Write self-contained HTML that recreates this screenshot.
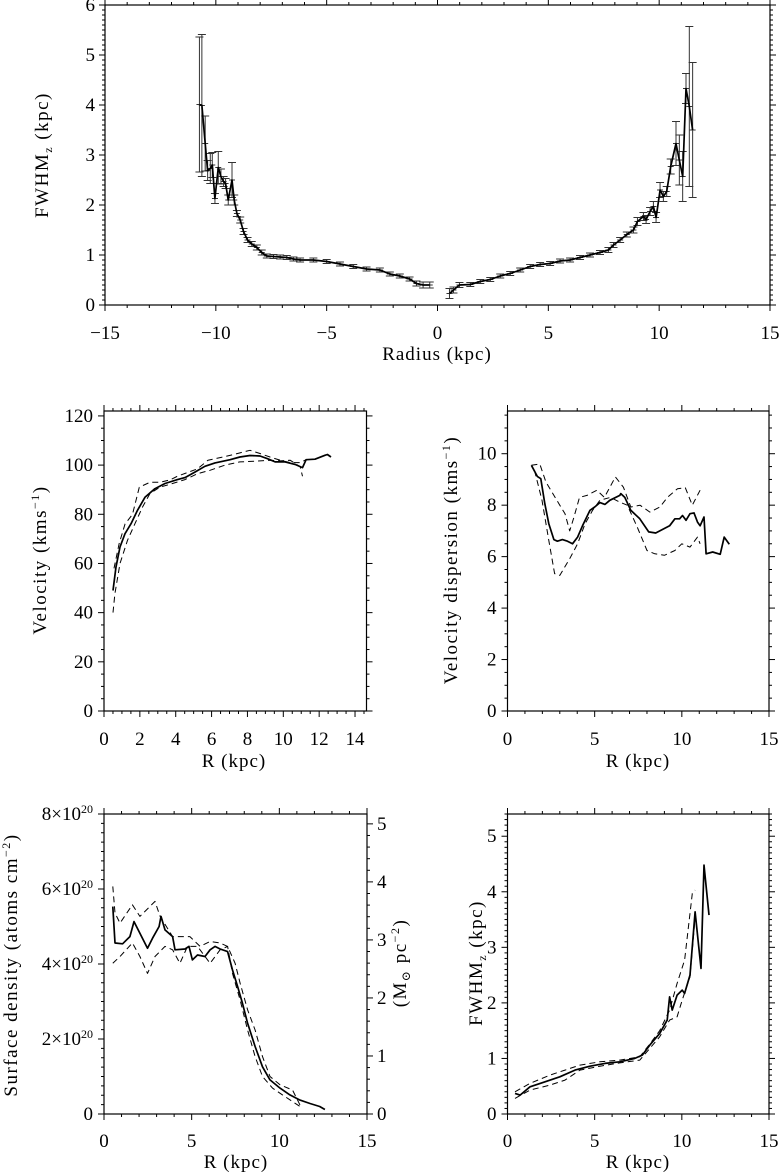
<!DOCTYPE html>
<html><head><meta charset="utf-8">
<style>
html,body{margin:0;padding:0;background:#fff;}
svg{display:block;font-family:"Liberation Serif","DejaVu Serif",serif;}
</style></head>
<body>
<svg id="fig" width="784" height="1172" viewBox="0 0 784 1172" xmlns="http://www.w3.org/2000/svg"></svg>
<script>
// ---------- DATA ----------
const fwhmNegR = [-10.74,-10.63,-10.48,-10.37,-10.25,-10.16,-10.04,-9.89,-9.77,-9.65,-9.56,-9.44,-9.27,-9.17,-9.05,-8.90,-8.75,-8.57,-8.38,-8.15,-7.93,-7.7,-7.4,-7.1,-6.8,-6.5,-6.2,-5.6,-5.0,-4.4,-3.8,-3.2,-2.6,-2.15,-1.7,-1.26,-0.95,-0.65,-0.35];
const fwhmNegV = [4.01,3.99,3.23,2.69,2.73,2.8,2.13,2.75,2.57,2.47,2.43,2.1,2.5,2.1,1.83,1.7,1.47,1.3,1.22,1.15,1.05,0.98,0.97,0.96,0.95,0.92,0.9,0.9,0.87,0.82,0.77,0.72,0.7,0.62,0.58,0.52,0.43,0.4,0.4];
const fwhmNegE = [1.35,1.42,0.55,0.2,0.3,0.25,0.1,0.32,0.15,0.1,0.1,0.1,0.35,0.1,0.06,0.06,0.06,0.05,0.05,0.05,0.05,0.04,0.04,0.04,0.04,0.04,0.04,0.04,0.04,0.04,0.04,0.04,0.04,0.04,0.04,0.04,0.05,0.06,0.06];
const fwhmPosR = [0.54,0.72,0.99,1.48,1.93,2.38,2.83,3.28,3.73,4.18,4.63,5.08,5.53,5.98,6.43,6.88,7.33,7.71,7.94,8.24,8.54,8.84,9.02,9.29,9.41,9.59,9.74,9.86,10.04,10.19,10.34,10.52,10.76,10.91,11.06,11.21,11.36,11.51];
const fwhmPosV = [0.23,0.3,0.4,0.41,0.47,0.51,0.58,0.63,0.7,0.77,0.81,0.83,0.88,0.9,0.95,1.0,1.05,1.1,1.2,1.3,1.41,1.5,1.67,1.77,1.71,1.87,1.97,1.75,2.3,2.17,2.27,2.77,3.23,2.9,2.57,4.33,3.97,3.5];
const fwhmPosE = [0.1,0.06,0.05,0.04,0.04,0.04,0.04,0.04,0.04,0.04,0.04,0.04,0.04,0.04,0.04,0.04,0.04,0.05,0.05,0.05,0.05,0.06,0.08,0.08,0.08,0.08,0.1,0.1,0.15,0.1,0.1,0.15,0.44,0.5,0.5,0.3,1.6,1.35];

const velR = [0.5,0.67,0.89,1.17,1.51,1.87,2.29,2.84,3.4,4.1,4.52,5.08,5.63,6.19,7.03,7.58,8.14,8.7,9.12,9.54,10.1,10.65,11.07,11.27,11.77,12.32,12.46,12.66];
const velV = [49,58.6,66.7,72.1,76.2,81.6,87,90.4,92.5,94.1,94.9,97.2,99.5,100.9,102.2,103.3,103.9,103.7,102.6,101.3,101.3,100.3,99,102.2,102.4,104,104.3,103.3];
const velUpR = [0.56,0.84,1.17,1.59,1.97,2.56,3.12,3.68,4.1,4.66,5.22,5.8,6.65,7.45,8.14,8.7,9.26,9.82,10.38,10.94,11.27];
const velUpV = [58,68,76,80,91,93,93,94,95.5,97,98.5,102,103.3,104.7,106,104.7,103.3,102,101,101,102.2];
const velLoR = [0.5,0.61,0.89,1.31,1.73,2.15,2.56,3.12,3.82,4.52,5.22,5.91,6.75,7.58,8.42,9.26,9.82,10.38,10.94,11.07];
const velLoV = [40,47.7,60,69.4,76.2,83,88.4,91,92.5,94.1,96.5,97.9,100,101.3,101.6,102,101.7,102,99.3,95.5];

const dispR = [1.37,1.71,1.91,2.14,2.37,2.66,2.86,3.15,3.44,3.73,4.02,4.3,4.73,5.0,5.3,5.59,5.87,6.44,6.5,6.73,7.07,7.59,8.1,8.5,9.3,9.6,9.87,10.04,10.24,10.47,10.7,10.9,11.05,11.27,11.39,11.77,12.2,12.43,12.72];
const dispV = [9.55,9.12,9.03,8.06,7.28,6.66,6.6,6.66,6.6,6.5,6.76,7.2,7.8,7.93,8.1,8.03,8.19,8.38,8.45,8.3,7.8,7.47,6.96,6.92,7.2,7.47,7.47,7.6,7.41,7.67,7.7,7.34,7.2,7.54,6.11,6.18,6.09,6.76,6.48];
const dispUpR = [1.37,1.85,2.2,3.0,3.3,3.57,3.8,4.13,4.56,5.13,5.56,6.19,6.65,7.07,7.6,8.17,8.74,9.17,9.75,10.2,10.6,11.05];
const dispUpV = [9.55,9.6,8.9,8.0,7.67,7.0,7.5,8.3,8.38,8.58,8.3,9.1,8.7,7.93,8.0,7.73,7.93,8.3,8.64,8.68,8.0,8.58];
const dispLoR = [1.55,1.98,2.37,2.7,3.0,3.57,4.02,4.45,4.88,5.3,5.9,6.44,6.87,7.44,8.0,8.45,9.0,9.6,10.0,10.47,10.9,11.05];
const dispLoV = [9.35,8.19,6.63,5.34,5.27,5.92,6.5,7.28,7.8,8.19,8.3,8.12,8.0,7.15,6.24,6.11,6.05,6.24,6.5,6.37,6.76,6.5];

const sdR = [0.5,0.63,1.06,1.48,1.71,2.05,2.48,2.77,3.14,3.25,3.48,3.91,4.05,4.62,4.85,5.04,5.33,5.76,6.05,6.33,6.62,7.05,7.33,7.62,7.9,8.19,8.62,9.04,9.47,10.04,10.6,11.18,11.75,12.3,12.6];
const sdV = [5.53,4.56,4.54,4.73,5.13,4.82,4.42,4.69,5.0,5.27,4.91,4.73,4.38,4.4,4.47,4.11,4.24,4.2,4.38,4.47,4.4,4.33,3.84,3.4,2.95,2.42,1.8,1.26,0.91,0.69,0.51,0.37,0.28,0.2,0.12];
const sdUpR = [0.5,0.63,0.91,1.62,2.05,2.91,3.2,3.91,4.62,4.9,5.48,6.05,6.62,7.05,7.48,7.76,8.19,8.62,9.04,9.47,10.04,10.75,11.18];
const sdUpV = [6.07,5.36,5.09,5.58,5.27,5.67,5.27,4.73,4.73,4.73,4.47,4.6,4.56,4.47,4.02,3.49,2.78,2.24,1.53,1.0,0.78,0.64,0.24];
const sdLoR = [0.5,0.91,1.62,2.05,2.48,2.91,3.48,3.91,4.33,4.76,5.33,6.05,6.62,7.05,7.33,7.76,8.19,8.62,9.04,9.61,10.18,10.75,11.18];
const sdLoV = [4.02,4.2,4.56,4.2,3.75,4.2,4.47,4.38,4.02,4.47,4.47,4.02,4.38,4.47,3.75,3.04,2.24,1.53,1.0,0.69,0.51,0.33,0.2];

const fzR = [0.43,0.72,1.29,2.15,3.0,3.87,4.73,5.59,6.44,7.3,7.73,8.16,8.73,9.16,9.3,9.45,9.73,10.02,10.16,10.47,10.76,11.1,11.27,11.56];
const fzV = [0.37,0.34,0.49,0.58,0.67,0.79,0.86,0.91,0.94,1.0,1.06,1.24,1.45,1.69,2.11,1.87,2.14,2.23,2.17,2.5,3.64,2.62,4.48,3.58];
const fzUpR = [0.43,1.29,2.44,3.3,4.16,5.3,6.44,7.59,8.16,8.73,9.3,9.73,10.16,10.6,10.76];
const fzUpV = [0.4,0.55,0.7,0.79,0.88,0.94,0.97,1.03,1.26,1.5,1.87,2.35,2.77,3.97,4.03];
const fzLoR = [0.43,1.29,2.44,3.3,4.16,5.3,6.44,7.59,8.16,8.73,9.3,9.73,10.02,10.47,10.76];
const fzLoV = [0.28,0.43,0.52,0.61,0.79,0.86,0.92,0.97,1.18,1.39,1.69,1.75,2.05,2.47,3.53];

// ---------- DRAWING ----------
const NS = "http://www.w3.org/2000/svg";
const svg = document.getElementById('fig');
const TF = 19;
function mk(tag, attrs, parent){
  const e = document.createElementNS(NS, tag);
  for (const k in attrs) e.setAttribute(k, attrs[k]);
  (parent||svg).appendChild(e);
  return e;
}
function scale(d0,d1,p0,p1){ return v => p0 + (v-d0)/(d1-d0)*(p1-p0); }
function fmt(v){ return String(Math.round(v*1000)/1000).replace('-', '\u2212'); }

function ticksX(g, sx, y, dir, min, max, major, minor, labels, labY){
  for (let v = Math.ceil(min/minor-1e-9)*minor; v <= max+1e-9; v += minor){
    const isMaj = Math.abs(v/major - Math.round(v/major)) < 1e-6;
    const L = isMaj ? 6 : 3;
    mk('line',{x1:sx(v),x2:sx(v),y1:y,y2:y+dir*L,stroke:'#000','stroke-width':1},g);
    if (isMaj && labels){
      const t = mk('text',{x:sx(v),y:labY,'text-anchor':'middle','font-size':TF},g);
      t.textContent = fmt(v);
      
      
    }
  }
}
function ticksY(g, sy, x, dir, min, max, major, minor, labelFn, labX, anchor){
  for (let v = Math.ceil(min/minor-1e-9)*minor; v <= max+1e-9; v += minor){
    const isMaj = Math.abs(v/major - Math.round(v/major)) < 1e-6;
    const L = isMaj ? 6 : 3;
    mk('line',{x1:x,x2:x+dir*L,y1:sy(v),y2:sy(v),stroke:'#000','stroke-width':1},g);
    if (isMaj && labelFn){
      const t = mk('text',{x:labX,y:sy(v)+6,'text-anchor':anchor||'end','font-size':TF},g);
      labelFn(t, v);
      
      
    }
  }
}
function plainLabel(t,v){ t.textContent = fmt(v); }
function e20Label(t,v){
  if (Math.abs(v) < 1e-9){ t.textContent='0'; return; }
  t.textContent = Math.round(v) + '\u00d710';
  const s = mk('tspan',{dy:-7,'font-size':12},t); s.textContent='20';
}
function line(g, sx, sy, xs, ys, dashed, name){
  const d = xs.map((x,i)=>(i?'L':'M')+sx(x).toFixed(1)+','+sy(ys[i]).toFixed(1)).join('');
  const p = mk('path',{d:d,fill:'none',stroke:'#000','stroke-width':dashed?1:1.7,'stroke-dasharray':dashed?'6,4':'none','stroke-linejoin':'round'},g);
  
  
  return p;
}
function frame(g,x0,y0,x1,y1){
  mk('rect',{x:x0,y:y0,width:x1-x0,height:y1-y0,fill:'none',stroke:'#000','stroke-width':1.2},g);
}
function rotTitle(g, x, y, parts, name){
  const t = mk('text',{x:x,y:y,transform:`rotate(-90 ${x} ${y})`,'text-anchor':'middle','font-size':19,'letter-spacing':'1.5'},g);
  parts.forEach(p=>{
    const s = mk('tspan', p.sup?{dy:-7,'font-size':12}:(p.sub?{dy:4,'font-size':12}:(p.back?{dy:p.back,'font-size':19}:{})), t);
    s.textContent = p.t;
  });
  
  
  return t;
}
function xTitle(g,x,y,txt,name){
  const t = mk('text',{x:x,y:y,'text-anchor':'middle','font-size':19,'letter-spacing':'1'},g);
  t.textContent = txt;
  
  
}

// Panel A
(function(){
  const g = mk('g',{});
  
  
  const X0=105,X1=770,Y0=5,Y1=305;
  const sx = scale(-15,15,X0,X1), sy = scale(0,6,Y1,Y0);
  frame(g,X0,Y0,X1,Y1);
  ticksX(g,sx,Y1,1,-15,15,5,1,true,339);
  ticksX(g,sx,Y0,-1,-15,15,5,1,false);
  ticksY(g,sy,X0,-1,0,6,1,0.1,plainLabel,X0-10);
  ticksY(g,sy,X1,1,0,6,1,0.1,null);
  const eg = mk('g',{stroke:'#333','stroke-width':1},g);
  
  
  function errs(R,V,E){
    R.forEach((r,i)=>{
      const x=sx(r), ya=sy(V[i]-E[i]), yb=sy(V[i]+E[i]);
      mk('line',{x1:x,x2:x,y1:ya,y2:yb},eg);
      mk('line',{x1:x-4,x2:x+4,y1:ya,y2:ya},eg);
      mk('line',{x1:x-4,x2:x+4,y1:yb,y2:yb},eg);
      mk('line',{x1:x-3,x2:x+3,y1:sy(V[i]),y2:sy(V[i])},eg);
    });
  }
  errs(fwhmNegR,fwhmNegV,fwhmNegE);
  errs(fwhmPosR,fwhmPosV,fwhmPosE);
  line(g,sx,sy,fwhmNegR,fwhmNegV,false,'fwhm-line-negative-side');
  line(g,sx,sy,fwhmPosR,fwhmPosV,false,'fwhm-line-positive-side');
  xTitle(g,437,360,'Radius (kpc)','x-axis-title');
  rotTitle(g,48,155,[{t:'FWHM'},{t:'z',sub:true},{t:' (kpc)',back:-4}],'y-axis-title');
})();

// Panel B
(function(){
  const g = mk('g',{});
  
  
  const X0=104,X1=366.5,Y0=411,Y1=711;
  const sx = scale(0,14.64,X0,X1), sy = scale(0,122,Y1,Y0);
  frame(g,X0,Y0,X1,Y1);
  ticksX(g,sx,Y1,1,0,14.64,2,0.5,true,745);
  ticksX(g,sx,Y0,-1,0,14.64,2,0.5,false);
  ticksY(g,sy,X0,-1,0,122,20,5,plainLabel,X0-11);
  ticksY(g,sy,X1,1,0,122,20,5,null);
  line(g,sx,sy,velUpR,velUpV,true,'velocity-upper-dashed');
  line(g,sx,sy,velLoR,velLoV,true,'velocity-lower-dashed');
  line(g,sx,sy,velR,velV,false,'velocity-line');
  xTitle(g,234,767,'R (kpc)','x-axis-title');
  rotTitle(g,46,560,[{t:'Velocity (kms'},{t:'\u22121',sup:true},{t:')',back:7}],'y-axis-title');
})();

// Panel C
(function(){
  const g = mk('g',{});
  
  
  const X0=507.5,X1=769,Y0=411,Y1=711;
  const sx = scale(0,15,X0,X1), sy = scale(0,11.66,Y1,Y0);
  frame(g,X0,Y0,X1,Y1);
  ticksX(g,sx,Y1,1,0,15,5,1,true,745);
  ticksX(g,sx,Y0,-1,0,15,5,1,false);
  ticksY(g,sy,X0,-1,0,11.66,2,0.5,plainLabel,X0-11);
  ticksY(g,sy,X1,1,0,11.66,2,0.5,null);
  line(g,sx,sy,dispUpR,dispUpV,true,'dispersion-upper-dashed');
  line(g,sx,sy,dispLoR,dispLoV,true,'dispersion-lower-dashed');
  line(g,sx,sy,dispR,dispV,false,'dispersion-line');
  xTitle(g,638,767,'R (kpc)','x-axis-title');
  rotTitle(g,457,560,[{t:'Velocity dispersion (kms'},{t:'\u22121',sup:true},{t:')',back:7}],'y-axis-title');
})();

// Panel D
(function(){
  const g = mk('g',{});
  
  
  const X0=104,X1=367,Y0=814,Y1=1114;
  const sx = scale(0,15,X0,X1), sy = scale(0,8,Y1,Y0), sy2 = scale(0,5.17,Y1,Y0);
  frame(g,X0,Y0,X1,Y1);
  ticksX(g,sx,Y1,1,0,15,5,1,true,1147);
  ticksX(g,sx,Y0,-1,0,15,5,1,false);
  ticksY(g,sy,X0,-1,0,8,2,0.25,e20Label,X0-11);
  ticksY(g,sy2,X1,1,0,5.17,1,0.2,plainLabel,X1+10,'start');
  line(g,sx,sy,sdUpR,sdUpV,true,'density-upper-dashed');
  line(g,sx,sy,sdLoR,sdLoV,true,'density-lower-dashed');
  line(g,sx,sy,sdR,sdV,false,'density-line');
  xTitle(g,236,1168,'R (kpc)','x-axis-title');
  rotTitle(g,17,965,[{t:'Surface density (atoms cm'},{t:'\u22122',sup:true},{t:')',back:7}],'y-axis-title-left');
  rotTitle(g,406,963,[{t:'(M'},{t:'\u2299',sub:true},{t:' pc',back:-4},{t:'\u22122',sup:true},{t:')',back:7}],'y-axis-title-right');
})();

// Panel E
(function(){
  const g = mk('g',{});
  
  
  const X0=507.5,X1=769,Y0=814,Y1=1114;
  const sx = scale(0,15,X0,X1), sy = scale(0,5.4,Y1,Y0);
  frame(g,X0,Y0,X1,Y1);
  ticksX(g,sx,Y1,1,0,15,5,1,true,1147);
  ticksX(g,sx,Y0,-1,0,15,5,1,false);
  ticksY(g,sy,X0,-1,0,5.4,1,0.1,plainLabel,X0-11);
  ticksY(g,sy,X1,1,0,5.4,1,0.1,null);
  line(g,sx,sy,fzUpR,fzUpV,true,'fwhm-upper-dashed');
  line(g,sx,sy,fzLoR,fzLoV,true,'fwhm-lower-dashed');
  line(g,sx,sy,fzR,fzV,false,'fwhm-line');
  xTitle(g,638,1168,'R (kpc)','x-axis-title');
  rotTitle(g,482,963,[{t:'FWHM'},{t:'z',sub:true},{t:' (kpc)',back:-4}],'y-axis-title');
})();
</script>
</body></html>
